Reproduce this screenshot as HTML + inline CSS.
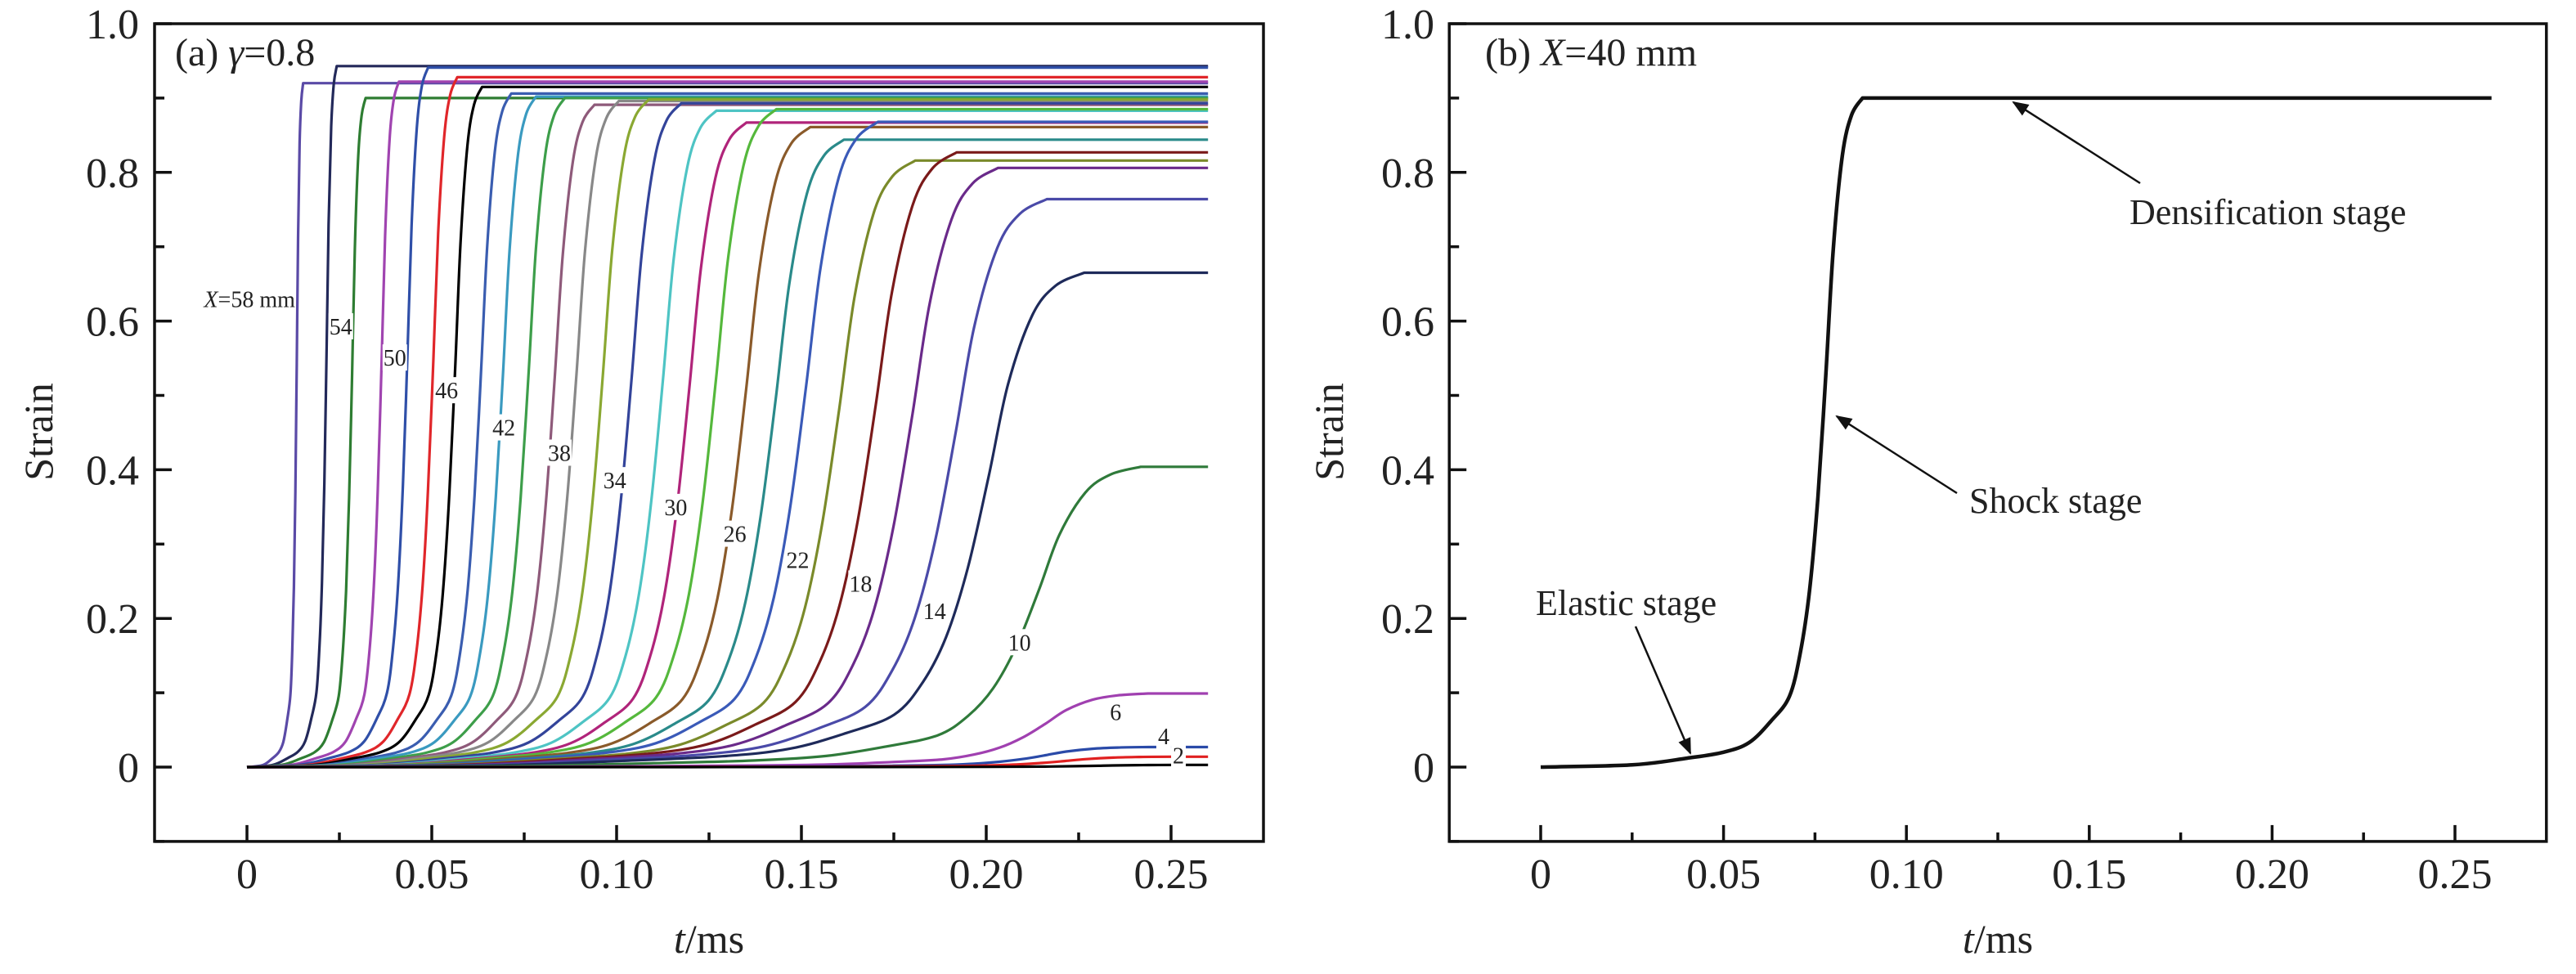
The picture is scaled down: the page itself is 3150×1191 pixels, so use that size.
<!DOCTYPE html>
<html><head><meta charset="utf-8"><style>
html,body{margin:0;padding:0;background:#fff;}
svg{display:block;font-family:"Liberation Serif",serif;}
</style></head><body>
<svg id="fig" width="3150" height="1191" viewBox="0 0 3150 1191"></svg>
<script>
// ---------- data ----------
const positionsX = [58,56,54,52,50,48,46,44,42,40,38,36,34,32,30,28,26,24,22,20,18,16,14,12,10,8,6,4,2,0];
const plateauStrain = [0.920,0.943,0.900,0.922,0.941,0.928,0.915,0.906,0.902,0.900,0.891,0.896,0.898,0.893,0.883,0.867,0.885,0.861,0.844,0.868,0.816,0.827,0.806,0.764,0.665,0.404,0.099,0.027,0.014,0.003];
const plateauTime = [0.0152,0.0243,0.0321,0.0411,0.0490,0.0569,0.0636,0.0715,0.0782,0.0860,0.0940,0.1006,0.1087,0.1175,0.1270,0.1351,0.1432,0.1524,0.1615,0.1707,0.1808,0.1920,0.2032,0.2164,0.2265,0.2418,0.2438,0.2438,0.2499,0.2600];
const curveColors = ['#5a4aa6','#23295a','#2e7d32','#a044b0','#2f4fa8','#e0262a','#000000','#3a5db0','#3a9ac0','#3d9e4a','#8e5a7a','#888888','#8aa832','#33449a','#4ec4c4','#b0247a','#55b83c','#8a5a2a','#2a8a8a','#3a5ab8','#7a8a2a','#7a1a1a','#6a2a8a','#4a4aa8','#1e2a5a','#2f7a3a','#a040b0','#2a4aa8','#e02020','#000000'];
const tEnd = 0.26;
// normalized rise profile (fraction of plateau time, fraction of plateau strain)
const shapeU = [0,0.284,0.455,0.568,0.648,0.716,0.773,0.807,0.835,0.861,0.886,0.909,0.938,0.966,1];
const shapeF = [0,0.003,0.013,0.022,0.037,0.069,0.106,0.171,0.263,0.403,0.589,0.774,0.914,0.974,1];
// curve labels (panel a)
const labelText = ['58','54','50','46','42','38','34','30','26','22','18','14','10','6','4','2'];
const labelT = [0.0007,0.0254,0.040,0.054,0.0695,0.0845,0.0995,0.116,0.132,0.149,0.166,0.186,0.209,0.235,0.248,0.252];
const labelS = [0.630,0.593,0.551,0.507,0.457,0.423,0.386,0.350,0.314,0.279,0.247,0.210,0.168,0.074,0.042,0.016];
// panel b series (X = 40 mm)
const bT = [0,0.025,0.04,0.05,0.057,0.063,0.068,0.071,0.0735,0.0758,0.078,0.080,0.0825,0.085,0.088,0.26];
const bS = [0,0.003,0.012,0.02,0.033,0.062,0.095,0.154,0.237,0.363,0.53,0.697,0.823,0.877,0.9,0.9];
const xTicks = [0,0.05,0.10,0.15,0.20,0.25];
const xTickLabels = ['0','0.05','0.10','0.15','0.20','0.25'];
const yTicks = [0,0.2,0.4,0.6,0.8,1.0];
const yTickLabels = ['0','0.2','0.4','0.6','0.8','1.0'];

// ---------- helpers ----------
const NS = 'http://www.w3.org/2000/svg';
const svg = document.getElementById('fig');
function mk(tag, attrs, parent){
  const e = document.createElementNS(NS, tag);
  for (const k in attrs) e.setAttribute(k, attrs[k]);
  (parent||svg).appendChild(e);
  return e;
}
function makeAxes(x0px, pxPerMs){
  const y0 = 938, pxPerUnit = 909;
  return { X: t => x0px + t*pxPerMs, Y: s => y0 - s*pxPerUnit };
}
const axA = makeAxes(302, 4520);
const axB = makeAxes(1884, 4472);

function smoothPath(pts){
  let d = 'M' + pts[0][0].toFixed(1) + ',' + pts[0][1].toFixed(1);
  for (let i = 0; i < pts.length-1; i++){
    const p0 = pts[Math.max(0,i-1)], p1 = pts[i], p2 = pts[i+1], p3 = pts[Math.min(pts.length-1,i+2)];
    const c1x = p1[0] + (p2[0]-p0[0])/6, c1y = p1[1] + (p2[1]-p0[1])/6;
    const c2x = p2[0] - (p3[0]-p1[0])/6, c2y = p2[1] - (p3[1]-p1[1])/6;
    d += 'C' + c1x.toFixed(1)+','+c1y.toFixed(1)+' '+c2x.toFixed(1)+','+c2y.toFixed(1)+' '+p2[0].toFixed(1)+','+p2[1].toFixed(1);
  }
  return d;
}

function drawFrame(ax, id, ylabX, yTickRight){
  const g = mk('g', {});
  
  
  const xl = ax.X(-0.025), xr = ax.X(0.275), yt = ax.Y(1.0), yb = ax.Y(-0.1);
  const fr = mk('rect', {x: xl, y: yt, width: xr-xl, height: yb-yt, fill:'none', stroke:'#111', 'stroke-width':3.5}, g);
  
  
  for (let k = -1; k <= 10; k++){
    const v = k*0.1;
    const major = Math.abs(k)%2 === 0;
    const tk = mk('line', {x1: xl, x2: xl + (major?21:12), y1: ax.Y(v), y2: ax.Y(v), stroke:'#111', 'stroke-width':3.5}, g);
    
    
  }
  yTicks.forEach((v,i)=>{
    const t = mk('text', {x: yTickRight, y: ax.Y(v)+18, 'text-anchor':'end', 'font-size':52, fill:'#222'}, g);
    t.textContent = yTickLabels[i];
    
    
  });
  for (let k = 0; k <= 10; k++){
    const v = k*0.025;
    const major = k%2===0;
    const tk = mk('line', {x1: ax.X(v), x2: ax.X(v), y1: yb, y2: yb - (major?20:11), stroke:'#111', 'stroke-width':3.5}, g);
    
    
  }
  xTicks.forEach((v,i)=>{
    const t = mk('text', {x: ax.X(v), y: 1086, 'text-anchor':'middle', 'font-size':52, fill:'#222'}, g);
    t.textContent = xTickLabels[i];
    
    
  });
  const yl = mk('text', {x: ylabX, y: 528, 'text-anchor':'middle', 'font-size':50, fill:'#222', transform:`rotate(-90 ${ylabX} 528)`}, g);
  yl.textContent = 'Strain';
  
  
  const xlab = mk('text', {x: (xl+xr)/2, y: 1165, 'text-anchor':'middle', 'font-size':50, fill:'#222'}, g);
  xlab.innerHTML = '<tspan font-style="italic">t</tspan>/ms';
  
  
}
drawFrame(axA, 'panel-a', 64, 170);
drawFrame(axB, 'panel-b', 1642, 1754);

// ---------- panel a curves ----------
const curvesG = mk('g', {});


positionsX.forEach((xp, i)=>{
  const te = plateauTime[i], ps = plateauStrain[i];
  const pts = shapeU.map((u, j)=>[axA.X(u*te), axA.Y(shapeF[j]*ps)]);
  let d = smoothPath(pts);
  d += 'L' + axA.X(tEnd).toFixed(1) + ',' + axA.Y(ps).toFixed(1);
  const p = mk('path', {d: d, fill:'none', stroke: curveColors[i], 'stroke-width':3.2, 'stroke-linejoin':'round'}, curvesG);
  
  
});
labelText.forEach((lt, i)=>{
  const cx = axA.X(labelT[i]), cy = axA.Y(labelS[i]);
  const is58 = lt === '58';
  const w = is58 ? 110 : (lt.length>1 ? 30 : 18);
  const bg = mk('rect', {x: cx - w/2, y: cy - 16, width: w, height: 32, fill:'#fff'}, curvesG);
  
  
  const t = mk('text', {x: cx, y: cy + 10, 'text-anchor':'middle', 'font-size':28, fill:'#222'}, curvesG);
  if (is58) t.innerHTML = '<tspan font-style="italic">X</tspan>=58 mm';
  else t.textContent = lt;
  
  
});
const ta = mk('text', {x: 214, y: 80, 'font-size':48, fill:'#222'});
ta.innerHTML = '(a) <tspan font-style="italic">γ</tspan>=0.8';



// ---------- panel b ----------
const bPts = bT.map((t,j)=>[axB.X(t), axB.Y(bS[j])]);
const bRise = bPts.slice(0, bPts.length-1);
const bLast = bPts[bPts.length-1];
const pb = mk('path', {d: smoothPath(bRise) + 'L' + bLast[0].toFixed(1) + ',' + bLast[1].toFixed(1), fill:'none', stroke:'#111', 'stroke-width':4.5, 'stroke-linejoin':'round'});


const tb = mk('text', {x: 1816, y: 80, 'font-size':48, fill:'#222'});
tb.innerHTML = '(b) <tspan font-style="italic">X</tspan>=40 mm';



const defs = mk('defs', {});
const mkr = mk('marker', {id:'ah', viewBox:'0 0 10 10', refX:9, refY:5, markerWidth:26, markerHeight:20, orient:'auto', markerUnits:'userSpaceOnUse'}, defs);
mk('path', {d:'M0,1 L10,5 L0,9 z', fill:'#111'}, mkr);

function annot(name, text, tx, ty, x1, y1, x2, y2){
  const g = mk('g', {});
  
  
  const l = mk('line', {x1:x1, y1:y1, x2:x2, y2:y2, stroke:'#111', 'stroke-width':2.5, 'marker-end':'url(#ah)'}, g);
  
  
  const t = mk('text', {x: tx, y: ty, 'font-size':44, fill:'#222'}, g);
  t.textContent = text;
  
  
}
annot('elastic-stage-annotation', 'Elastic stage', 1878, 752, 2000, 766, 2067, 921);
annot('shock-stage-annotation', 'Shock stage', 2408, 627, 2393, 603, 2246, 509);
annot('densification-stage-annotation', 'Densification stage', 2604, 274, 2617, 224, 2462, 125);
</script>
</body></html>
